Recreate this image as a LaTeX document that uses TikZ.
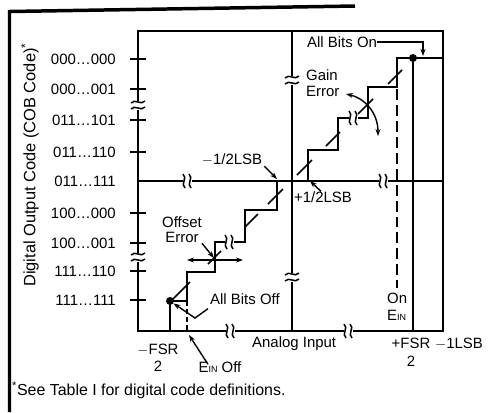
\documentclass[tikz,border=0pt]{standalone}
\usepackage{fontspec}
\setmainfont{Liberation Sans}
\usetikzlibrary{arrows.meta}

\newcommand{\ein}{E{\fontsize{9}{9}\selectfont IN}}

\tikzset{
  lbl/.style={font=\fontsize{15}{17}\selectfont, inner sep=0pt},
  code/.style={lbl, anchor=east},
  axisline/.style={line width=2.4pt},
  stair/.style={line width=2pt, line join=miter},
  ideal/.style={line width=1.7pt},
  pointer/.style={line width=1.4pt, -{Stealth[length=7pt,width=5pt]}},
  twoway/.style={line width=1.4pt, {Stealth[length=7pt,width=5pt]}-{Stealth[length=7pt,width=5pt]}},
  bigdot/.style={circle, fill, inner sep=0pt, minimum size=8bp},
  brk/.pic={
    \fill[white] (-4.5,-6) rectangle (4.5,6);
    \foreach \dx in {-3,3}
      \draw[line width=1.5pt] (\dx-1,-7) .. controls (\dx+4,-3) and (\dx-4,3) .. (\dx+1,7);
  }
}

\begin{document}
\begin{tikzpicture}[x=1bp, y=-1bp]
  \useasboundingbox (0,0) rectangle (497,412);

  % frame of the page
  \draw[line width=3.5pt] (355,6) -- (9.5,11.5) -- (9.5,412);

  % axes
  \draw[axisline] (138,31) rectangle (443,331);
  \draw[axisline] (292,31) -- (292,331);
  \draw[axisline] (138,181) -- (443,181);

  % output codes
  \foreach \y/\c in {59/000…000, 89/000…001, 120/011…101, 152/011…110,
                     213/100…000, 243/100…001, 271/111…110, 300/111…111}
  {
    \draw[line width=2pt] (130,\y) -- (146,\y);
    \node[code] (code\y) at (116,\y) {\c};
  }
  \node[code] (code181) at (116,181) {011…111};

  \node[lbl, rotate=90, font=\fontsize{16.5}{18}\selectfont] (ylabel) at (30,165) {Digital Output Code (COB Code)\textsuperscript{*}};

  % staircase
  \draw[stair] (170,301) -- (187,301) -- (187,272) -- (215,272) -- (215,242)
    -- (245,242) -- (245,210) -- (277,210) -- (277,181);
  \draw[stair] (308,181) -- (308,150) -- (338,150) -- (338,118) -- (368,118)
    -- (368,87) -- (397,87) -- (397,58) -- (443,58);
  \draw[line width=1.6pt] (170,301) -- (170,331);
  \draw[line width=1.4pt, dash pattern=on 5pt off 3pt] (187,301) -- (187,331);
  \draw[stair] (413,58) -- (413,331);
  \draw[line width=2pt, dash pattern=on 11pt off 5pt] (397,89) -- (397,288);

  \node[bigdot] (dotlo) at (170,301) {};
  \node[bigdot] (dothi) at (413,58) {};

  % ideal transfer line
  \foreach \a/\b in {170/190, 208/221, 245/258, 268/283, 297/312, 326/340, 358/373, 388/402}
    \draw[ideal] (\a,472-\a) -- (\b,472-\b);

  % breaks
  \foreach \x/\y in {187/181, 383/181, 230/331, 348/331, 229/242, 353/118}
    \pic at (\x,\y) {brk};
  \foreach \x/\y in {138/105, 138/257, 292/80, 292/277}
    \pic[rotate=90] at (\x,\y) {brk};

  % labels and pointers
  \node[lbl, anchor=west] (abon) at (307,42) {All Bits On};
  \coordinate (ontop) at (423,56);
  \draw[pointer] (abon.east) -- (423,42) -- (ontop);

  \node[lbl, align=left, anchor=north west] (gain) at (306,69) {Gain\\Error};
  \coordinate (gainl) at (346,94);
  \coordinate (gainr) at (378,136);
  \draw[twoway] (gainl) .. controls (364,98) and (378,112) .. (gainr);

  \node[lbl, align=center, anchor=north] (offset) at (182,216) {Offset\\[-1pt]Error};
  \coordinate (offpt) at (214,258);
  \draw[pointer] (offset.south east) -- (offpt);
  \coordinate (offl) at (187,260);
  \coordinate (offr) at (243,260);
  \draw[twoway] (offl) -- (offr);

  \node[lbl] (mhalf) at (232,160) {$-$1/2LSB};
  \coordinate (mhalfpt) at (277,179);
  \draw[pointer] ([xshift=2bp]mhalf.south east) -- (mhalfpt);

  \node[lbl] (phalf) at (323,197) {+1/2LSB};
  \coordinate (phalfpt) at (310,181);
  \draw[pointer] ([xshift=-2bp]phalf.north) -- (phalfpt);

  \node[lbl, anchor=west] (aboff) at (210,299) {All Bits Off};
  \draw[pointer] ([xshift=-2bp,yshift=-4bp]aboff.south west) -- (195,318) -- (dotlo);

  \node[lbl] (einoff) at (220,367) {\ein{} Off};
  \coordinate (einpt) at (189,335);
  \draw[pointer] ([xshift=-12bp,yshift=-3bp]einoff.north) -- (einpt);

  \node[lbl, align=center] (mfsr) at (158,358) {$-$FSR\\2};
  \node[lbl, anchor=west] (analog) at (252,344) {Analog Input};
  \node[lbl, align=center, anchor=north] (pfsr) at (411,338) {+FSR\\[1pt]2};
  \node[lbl, anchor=west] (lsb) at (435,344) {$-$1LSB};
  \node[lbl, align=left, anchor=west] (einon) at (387,307) {On\\\ein};

  \node[lbl, anchor=west, font=\fontsize{16}{18}\selectfont] (note) at (12,390) {\textsuperscript{*}See Table I for digital code definitions.};
\end{tikzpicture}
\end{document}
